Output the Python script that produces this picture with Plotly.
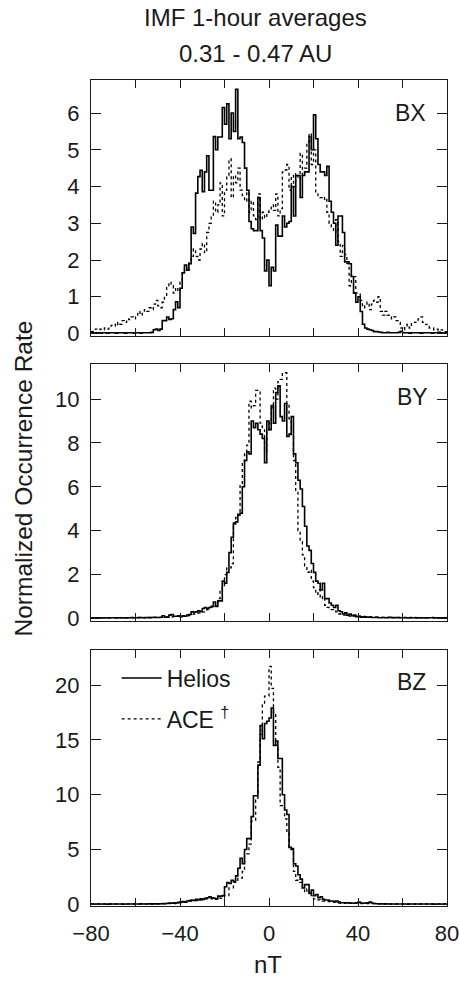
import plotly.graph_objects as go

# Bin edges (1 nT bins from -80 to 80)
BIN_EDGES = list(range(-80, 81))

# ---------------- BX ----------------
helios_bx = [
    0.02, 0.01, 0.02, 0.02, 0.01, 0.02, 0.02, 0.01, 0.02, 0.02,   # -80
    0.02, 0.01, 0.02, 0.02, 0.02, 0.01, 0.02, 0.02, 0.02, 0.01,   # -70
    0.02, 0.02, 0.01, 0.02, 0.02, 0.02, 0.02, 0.03, 0.10, 0.12,   # -60
    0.08, 0.12, 0.35, 0.35, 0.45, 0.38, 0.40, 0.65, 0.86, 0.70,   # -50
    1.23, 1.65, 1.86, 1.72, 1.90, 2.90, 2.72, 3.82, 4.27, 4.44,   # -40
    3.86, 4.40, 4.84, 3.90, 3.90, 5.36, 5.00, 5.35, 5.35, 6.15,   # -30
    5.70, 6.25, 5.30, 6.00, 5.50, 6.65, 5.30, 5.35, 5.20, 4.50,   # -20
    3.90, 3.05, 2.85, 2.80, 2.80, 3.70, 2.80, 2.60, 1.70, 2.00,   # -10
    1.30, 1.80, 1.70, 2.95, 2.65, 2.65, 3.20, 2.90, 3.00, 3.05,   # 0
    4.00, 3.20, 4.30, 4.30, 3.70, 4.30, 4.40, 4.40, 5.35, 5.00,   # 10
    5.95, 5.30, 4.60, 4.40, 4.40, 4.30, 4.55, 3.60, 3.30, 3.00,   # 20
    2.40, 3.20, 3.20, 2.75, 1.95, 1.95, 1.90, 1.55, 1.10, 0.85,   # 30
    1.00, 0.60, 0.25, 0.15, 0.12, 0.10, 0.08, 0.05, 0.05, 0.04,   # 40
    0.03, 0.02, 0.02, 0.03, 0.02, 0.02, 0.02, 0.02, 0.03, 0.06,   # 50
    0.02, 0.02, 0.02, 0.01, 0.02, 0.02, 0.02, 0.02, 0.01, 0.02,   # 60
    0.02, 0.02, 0.02, 0.01, 0.02, 0.02, 0.03, 0.02, 0.02, 0.02,   # 70
]
ace_bx = [
    0.05, 0.08, 0.12, 0.10, 0.12, 0.10, 0.15, 0.12, 0.20, 0.22,   # -80
    0.25, 0.20, 0.30, 0.25, 0.35, 0.30, 0.40, 0.38, 0.45, 0.40,   # -70
    0.50, 0.60, 0.50, 0.55, 0.65, 0.60, 0.70, 0.65, 0.80, 0.90,   # -60
    0.75, 0.70, 0.85, 1.00, 1.30, 1.40, 1.30, 1.10, 1.25, 1.15,   # -50
    1.40, 1.65, 1.80, 1.70, 1.95, 2.10, 2.30, 2.10, 2.00, 2.30,   # -40
    2.45, 2.20, 2.75, 3.00, 3.20, 3.60, 3.30, 3.50, 4.10, 3.20,   # -30
    3.90, 4.30, 4.75, 3.70, 4.30, 4.10, 4.50, 3.90, 3.75, 3.60,   # -20
    3.85, 3.30, 3.60, 3.20, 3.10, 3.80, 3.10, 3.30, 3.15, 3.30,   # -10
    3.35, 3.50, 3.35, 3.80, 3.20, 3.40, 4.40, 4.45, 4.60, 3.90,   # 0
    4.30, 4.00, 4.35, 4.20, 4.90, 4.30, 4.50, 5.20, 5.45, 4.60,   # 10
    5.00, 3.80, 3.75, 3.70, 3.65, 3.70, 3.30, 3.00, 2.90, 2.75,   # 20
    3.10, 2.50, 2.10, 2.40, 2.15, 1.90, 1.30, 1.60, 1.55, 1.10,   # 30
    1.10, 0.90, 0.70, 0.75, 0.85, 0.65, 0.80, 0.90, 0.85, 1.00,   # 40
    0.60, 0.50, 0.60, 0.50, 0.45, 0.40, 0.45, 0.35, 0.30, 0.15,   # 50
    0.10, 0.20, 0.25, 0.15, 0.30, 0.30, 0.35, 0.40, 0.45, 0.30,   # 60
    0.25, 0.20, 0.15, 0.15, 0.10, 0.12, 0.08, 0.10, 0.05, 0.05,   # 70
]

# ---------------- BY ----------------
helios_by = [
    0.03, 0.02, 0.03, 0.03, 0.02, 0.03, 0.03, 0.02, 0.03, 0.03,   # -80
    0.03, 0.02, 0.03, 0.03, 0.03, 0.02, 0.03, 0.03, 0.04, 0.03,   # -70
    0.03, 0.03, 0.04, 0.03, 0.03, 0.04, 0.03, 0.04, 0.05, 0.04,   # -60
    0.04, 0.05, 0.12, 0.06, 0.05, 0.15, 0.18, 0.10, 0.10, 0.12,   # -50
    0.08, 0.12, 0.10, 0.15, 0.18, 0.30, 0.28, 0.30, 0.35, 0.30,   # -40
    0.45, 0.50, 0.45, 0.50, 0.55, 0.75, 0.55, 0.80, 0.80, 1.70,   # -30
    1.60, 2.10, 3.00, 3.70, 4.35, 4.40, 4.75, 4.80, 6.00, 7.20,   # -20
    7.60, 7.50, 9.00, 8.70, 8.90, 8.60, 8.40, 8.20, 7.10, 9.00,   # -10
    8.60, 9.70, 8.90, 10.30, 10.60, 9.20, 9.00, 9.80, 8.30, 8.40, # 0
    9.20, 7.50, 7.10, 6.30, 5.90, 5.10, 4.20, 3.30, 3.10, 2.50,   # 10
    2.10, 1.70, 1.60, 1.30, 1.60, 0.90, 0.90, 0.70, 0.60, 0.50,   # 20
    0.60, 0.35, 0.30, 0.20, 0.25, 0.15, 0.20, 0.12, 0.15, 0.08,   # 30
    0.10, 0.06, 0.07, 0.05, 0.06, 0.06, 0.04, 0.04, 0.05, 0.03,   # 40
    0.03, 0.04, 0.03, 0.03, 0.05, 0.03, 0.03, 0.04, 0.03, 0.03,   # 50
    0.03, 0.03, 0.02, 0.03, 0.03, 0.03, 0.02, 0.03, 0.03, 0.03,   # 60
    0.02, 0.03, 0.03, 0.03, 0.02, 0.03, 0.03, 0.03, 0.02, 0.03,   # 70
]
ace_by = [
    0.03, 0.03, 0.02, 0.03, 0.03, 0.03, 0.02, 0.03, 0.03, 0.03,   # -80
    0.03, 0.03, 0.03, 0.02, 0.03, 0.03, 0.03, 0.03, 0.03, 0.03,   # -70
    0.03, 0.04, 0.03, 0.03, 0.04, 0.03, 0.04, 0.04, 0.04, 0.05,   # -60
    0.05, 0.05, 0.06, 0.06, 0.07, 0.08, 0.07, 0.08, 0.10, 0.09,   # -50
    0.10, 0.10, 0.12, 0.12, 0.15, 0.18, 0.20, 0.22, 0.25, 0.28,   # -40
    0.30, 0.35, 0.40, 0.50, 0.50, 0.55, 0.70, 0.90, 1.30, 1.50,   # -30
    2.00, 2.30, 2.30, 2.50, 4.30, 4.60, 4.70, 6.10, 7.10, 7.50,   # -20
    7.90, 9.90, 9.60, 9.70, 10.40, 10.40, 8.90, 8.60, 7.60, 8.60, # -10
    8.90, 9.60, 10.50, 10.00, 10.80, 10.90, 11.20, 11.20, 9.80, 9.10,  # 0
    8.30, 7.20, 5.80, 4.00, 3.50, 2.90, 2.40, 2.10, 2.20, 1.70,   # 10
    1.40, 1.10, 1.30, 0.90, 1.00, 0.60, 0.50, 0.45, 0.40, 0.35,   # 20
    0.30, 0.20, 0.20, 0.15, 0.15, 0.12, 0.10, 0.12, 0.10, 0.10,   # 30
    0.10, 0.08, 0.10, 0.08, 0.09, 0.08, 0.07, 0.06, 0.06, 0.05,   # 40
    0.05, 0.05, 0.04, 0.05, 0.04, 0.04, 0.05, 0.04, 0.04, 0.04,   # 50
    0.04, 0.05, 0.04, 0.04, 0.03, 0.04, 0.03, 0.04, 0.03, 0.03,   # 60
    0.03, 0.03, 0.03, 0.04, 0.03, 0.03, 0.03, 0.03, 0.03, 0.03,   # 70
]

# ---------------- BZ ----------------
helios_bz = [
    0.03, 0.03, 0.02, 0.03, 0.03, 0.03, 0.03, 0.02, 0.03, 0.03,   # -80
    0.03, 0.03, 0.03, 0.03, 0.02, 0.03, 0.03, 0.03, 0.03, 0.03,   # -70
    0.03, 0.03, 0.04, 0.03, 0.03, 0.03, 0.04, 0.03, 0.04, 0.04,   # -60
    0.04, 0.05, 0.08, 0.06, 0.10, 0.12, 0.10, 0.15, 0.12, 0.18,   # -50
    0.20, 0.25, 0.20, 0.30, 0.35, 0.40, 0.35, 0.45, 0.40, 0.50,   # -40
    0.45, 0.55, 0.60, 0.70, 0.60, 0.55, 0.50, 0.75, 0.75, 0.80,   # -30
    1.60, 2.00, 1.90, 2.20, 2.10, 2.60, 3.30, 4.20, 3.70, 5.00,   # -20
    6.00, 6.00, 8.00, 9.90, 9.90, 12.70, 16.30, 15.10, 16.50, 16.70,  # -10
    17.00, 17.90, 14.50, 14.90, 13.30, 13.30, 10.00, 8.60, 8.20, 5.20,  # 0
    5.10, 3.70, 3.50, 2.70, 2.30, 1.50, 1.80, 1.80, 1.00, 1.30,   # 10
    0.80, 0.90, 0.60, 0.70, 0.45, 0.40, 0.40, 0.30, 0.30, 0.25,   # 20
    0.30, 0.20, 0.15, 0.15, 0.12, 0.15, 0.10, 0.12, 0.10, 0.15,   # 30
    0.20, 0.12, 0.10, 0.12, 0.15, 0.20, 0.12, 0.08, 0.06, 0.05,   # 40
    0.04, 0.03, 0.04, 0.03, 0.03, 0.03, 0.03, 0.03, 0.03, 0.03,   # 50
    0.03, 0.03, 0.02, 0.03, 0.03, 0.03, 0.03, 0.03, 0.03, 0.03,   # 60
    0.03, 0.03, 0.03, 0.03, 0.02, 0.03, 0.03, 0.03, 0.03, 0.03,   # 70
]
ace_bz = [
    0.03, 0.03, 0.03, 0.03, 0.03, 0.02, 0.03, 0.03, 0.03, 0.03,   # -80
    0.03, 0.03, 0.03, 0.03, 0.03, 0.03, 0.03, 0.03, 0.03, 0.03,   # -70
    0.03, 0.03, 0.03, 0.03, 0.03, 0.04, 0.03, 0.03, 0.04, 0.04,   # -60
    0.04, 0.05, 0.05, 0.06, 0.06, 0.08, 0.08, 0.07, 0.09, 0.08,   # -50
    0.15, 0.18, 0.20, 0.25, 0.30, 0.30, 0.35, 0.35, 0.40, 0.40,   # -40
    0.45, 0.50, 0.50, 0.55, 0.50, 0.45, 0.50, 0.60, 0.55, 0.60,   # -30
    0.80, 0.80, 1.50, 1.50, 2.00, 2.00, 2.40, 2.40, 3.00, 4.50,   # -20
    4.60, 5.50, 7.60, 7.60, 9.50, 13.00, 15.50, 18.20, 19.00, 19.00,  # -10
    21.70, 19.70, 17.50, 14.50, 12.50, 9.00, 9.00, 7.80, 6.50, 5.00,  # 0
    5.00, 3.00, 2.20, 2.00, 2.00, 1.50, 1.10, 1.40, 0.90, 0.80,   # 10
    0.50, 0.45, 0.40, 0.35, 0.30, 0.30, 0.25, 0.25, 0.20, 0.20,   # 20
    0.15, 0.12, 0.12, 0.10, 0.12, 0.10, 0.12, 0.10, 0.12, 0.10,   # 30
    0.10, 0.08, 0.08, 0.07, 0.08, 0.07, 0.06, 0.07, 0.06, 0.05,   # 40
    0.04, 0.04, 0.03, 0.04, 0.03, 0.03, 0.03, 0.03, 0.03, 0.03,   # 50
    0.03, 0.03, 0.03, 0.03, 0.03, 0.03, 0.03, 0.03, 0.03, 0.03,   # 60
    0.03, 0.03, 0.03, 0.03, 0.03, 0.03, 0.03, 0.03, 0.03, 0.03,   # 70
]

PANELS = ["BX", "BY", "BZ"]
HELIOS = [helios_bx, helios_by, helios_bz]
ACE = [ace_bx, ace_by, ace_bz]
Y_RANGES = [[-0.07, 6.9], [-0.12, 11.6], [-0.15, 23.2]]
Y_DTICK = [1, 2, 5]
X_MAJOR_DTICK = 40
X_MINOR_DTICK = 20

FONT = "Liberation Sans, Arial, sans-serif"
INK = "#1a1a1a"

# domains (top panel first)
DOMAINS = [[0.690, 1.0], [0.345, 0.6562], [0.0, 0.3099]]

fig = go.Figure()

for i, (h, a) in enumerate(zip(HELIOS, ACE)):
    ax = "" if i == 0 else str(i + 1)
    fig.add_trace(go.Scatter(
        x=BIN_EDGES, y=h + [h[-1]], mode="lines", line_shape="hv",
        line=dict(color="#000000", width=1.6),
        name="Helios", legendgroup="helios", showlegend=(i == 2),
        xaxis="x" + ax, yaxis="y" + ax,
    ))
    fig.add_trace(go.Scatter(
        x=BIN_EDGES, y=a + [a[-1]], mode="lines", line_shape="hv",
        line=dict(color="#000000", width=1.3, dash="dot"),
        name="ACE <sup><span style='color:#1a1a1a'>†</span></sup>",
        legendgroup="ace", showlegend=(i == 2),
        xaxis="x" + ax, yaxis="y" + ax,
    ))

layout = dict(
    width=460, height=981,
    margin=dict(l=91, r=13, t=80, b=75, autoexpand=False),
    paper_bgcolor="white", plot_bgcolor="white",
    font=dict(family=FONT, color=INK, size=22),
    showlegend=True,
    legend=dict(
        x=0.072, y=0.302, xanchor="left", yanchor="top",
        bgcolor="rgba(0,0,0,0)", borderwidth=0,
        font=dict(size=23, family=FONT, color=INK),
        tracegroupgap=8, itemwidth=40,
    ),
)

for i in range(3):
    ax = "" if i == 0 else str(i + 1)
    layout["xaxis" + ax] = dict(
        domain=[0, 1], anchor="y" + ax, range=[-80, 80], automargin=False,
        tickmode="linear", tick0=-80, dtick=X_MAJOR_DTICK,
        minor=dict(tick0=-80, dtick=X_MINOR_DTICK, ticks="inside", ticklen=8,
                   tickwidth=1.2, tickcolor=INK, showgrid=False),
        showticklabels=(i == 2), ticks="inside", ticklen=8, tickwidth=1.2,
        tickcolor=INK, showline=True, linecolor=INK, linewidth=1.3,
        mirror="ticks", showgrid=False, zeroline=False,
        tickfont=dict(size=22), ticklabelstandoff=7,
    )
    layout["yaxis" + ax] = dict(
        domain=DOMAINS[i], anchor="x" + ax, range=Y_RANGES[i], automargin=False,
        dtick=Y_DTICK[i], tick0=0, ticks="inside", ticklen=10, tickwidth=1.2,
        tickcolor=INK, showline=True, linecolor=INK, linewidth=1.3,
        mirror="ticks", showgrid=False, zeroline=False,
        tickfont=dict(size=22), ticklabelstandoff=6,
    )

fig.update_layout(**layout)

annotations = [
    dict(text="IMF 1-hour averages", x=0.461, y=1.076, xref="paper", yref="paper",
         showarrow=False, font=dict(size=24), xanchor="center", yanchor="middle"),
    dict(text="0.31 - 0.47 AU", x=0.461, y=1.0315, xref="paper", yref="paper",
         showarrow=False, font=dict(size=24), xanchor="center", yanchor="middle"),
    dict(text="Normalized Occurrence Rate", x=-0.19, y=0.518, xref="paper", yref="paper",
         showarrow=False, textangle=-90, font=dict(size=24.5), xanchor="center", yanchor="middle"),
    dict(text="nT", x=0.497, y=-0.0714, xref="paper", yref="paper",
         showarrow=False, font=dict(size=24), xanchor="center", yanchor="middle"),
]
LABEL_POS = [(0.947, 0.960), (0.952, 0.616), (0.947, 0.271)]
for name, (lx, ly) in zip(PANELS, LABEL_POS):
    annotations.append(dict(text=name, x=lx, y=ly, xref="paper", yref="paper",
                            showarrow=False, font=dict(size=23),
                            xanchor="right", yanchor="middle"))
fig.update_layout(annotations=annotations)

fig.write_html(
    "out.html",
    config={"displayModeBar": False},
    post_script="document.body.style.margin='0px';document.body.style.overflow='hidden';",
)
